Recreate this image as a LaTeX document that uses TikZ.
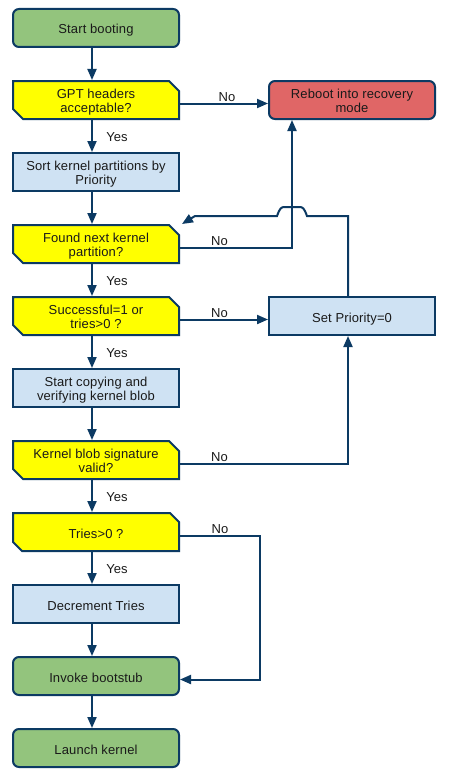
\documentclass[tikz,border=0pt]{standalone}
\usepackage{fontspec}
\setmainfont{Liberation Sans}[LetterSpace=1]
\usetikzlibrary{shapes.misc,arrows.meta}
\definecolor{edgec}{HTML}{0C3A63}
\definecolor{termgreen}{HTML}{93C47D}
\definecolor{procblue}{HTML}{CFE2F3}
\definecolor{redbox}{HTML}{E06666}
\definecolor{decyellow}{HTML}{FFFF00}
\definecolor{txt}{HTML}{1A1A1A}
\def\myrh{18pt}
\begin{document}
\begin{tikzpicture}[x=1pt,y=-1pt,
  base/.style={draw=edgec, line width=2pt, minimum width=166pt, minimum height=38pt,
    inner sep=1pt, align=center, font=\fontsize{13}{14.5}\selectfont, text=txt,
    execute at begin node={\rule[-3pt]{0pt}{\myrh}}},
  two/.code={\def\myrh{31.4pt}},
  term/.style={base, rounded corners=6pt, fill=termgreen},
  proc/.style={base, fill=procblue},
  rbox/.style={base, rounded corners=6pt, fill=redbox},
  dec/.style={base, chamfered rectangle, chamfered rectangle corners={north east,south west},
    chamfered rectangle xsep=5pt, chamfered rectangle ysep=5pt, inner ysep=-5pt, fill=decyellow},
  lab/.style={font=\fontsize{13}{15}\selectfont, text=txt, inner sep=0pt},
  arr/.style={draw=edgec, line width=2pt, -{Triangle[length=11pt,width=9pt]}}]
\useasboundingbox (0,0) rectangle (452,776);
\fill[white] (0,0) rectangle (452,776);

\node[term] (start)  at (96,28)  {Start booting};
\node[dec,two]  (gpt)    at (96,100) {GPT headers\\acceptable?};
\node[proc,two] (sort)   at (96,172) {Sort kernel partitions by\\Priority};
\node[dec,two]  (found)  at (96,244) {Found next kernel\\partition?};
\node[dec,two]  (succ)   at (96,316) {Successful=1 or\\tries>0 ?};
\node[proc,two] (copy)   at (96,388) {Start copying and\\verifying kernel blob};
\node[dec,two]  (blob)   at (96,460) {Kernel blob signature\\valid?};
\node[dec]  (tries)  at (96,532) {Tries>0 ?};
\node[proc] (decr)   at (96,604) {Decrement Tries};
\node[term] (invoke) at (96,676) {Invoke bootstub};
\node[term] (launch) at (96,748) {Launch kernel};
\node[rbox,two] (reboot) at (352,100) {Reboot into recovery\\mode};
\node[proc] (setp)   at (352,316) {Set Priority=0};

% vertical flow
\draw[arr] ([xshift=-4pt]start.south) -- ([xshift=-4pt]gpt.north);
\draw[arr] ([xshift=-4pt]gpt.south) -- ([xshift=-4pt]sort.north);
\draw[arr] ([xshift=-4pt]sort.south) -- ([xshift=-4pt]found.north);
\draw[arr] ([xshift=-4pt]found.south) -- ([xshift=-4pt]succ.north);
\draw[arr] ([xshift=-4pt]succ.south) -- ([xshift=-4pt]copy.north);
\draw[arr] ([xshift=-4pt]copy.south) -- ([xshift=-4pt]blob.north);
\draw[arr] ([xshift=-4pt]blob.south) -- ([xshift=-4pt]tries.north);
\draw[arr] ([xshift=-4pt]tries.south) -- ([xshift=-4pt]decr.north);
\draw[arr] ([xshift=-4pt]decr.south) -- ([xshift=-4pt]invoke.north);
\draw[arr] ([xshift=-4pt]invoke.south) -- ([xshift=-4pt]launch.north);

% side branches
\coordinate (jx) at (292,0);
\draw[arr] ([yshift=-3.5pt]gpt.east) -- ([yshift=-3.5pt]reboot.west);
\draw[arr] ([yshift=-3.5pt]found.east) -| (reboot.south -| jx);
\draw[arr] ([yshift=-3.5pt]succ.east) -- ([yshift=-3.5pt]setp.west);
\draw[arr] ([yshift=-3.5pt]blob.east) -| ([xshift=-4pt]setp.south);
\draw[arr] ([yshift=-3.5pt]tries.east) -- ++(80,0) |- ([yshift=-3.5pt]invoke.east);

% loop back with jump over
\coordinate (jr) at (307,216);
\coordinate (jl) at (195,216);
\coordinate (fc) at (182,224);
\draw[arr] ([xshift=-4pt]setp.north) |- (jr)
  .. controls (304,208) and (303,207) .. (299,207) -- (285,207)
  .. controls (281,207) and (280,208) .. (277,216) -- (jl) -- (fc);

% labels
\node[lab] (l1) at (227,97) {No};
\node[lab] (l2) at (219.5,241.5) {No};
\node[lab] (l3) at (219.5,313.5) {No};
\node[lab] (l4) at (219.5,457) {No};
\node[lab] (l5) at (220,529) {No};
\node[lab] (y1) at (117,137) {Yes};
\node[lab] (y2) at (117,281) {Yes};
\node[lab] (y3) at (117,353) {Yes};
\node[lab] (y4) at (117,497) {Yes};
\node[lab] (y5) at (117,569) {Yes};
\end{tikzpicture}
\end{document}
